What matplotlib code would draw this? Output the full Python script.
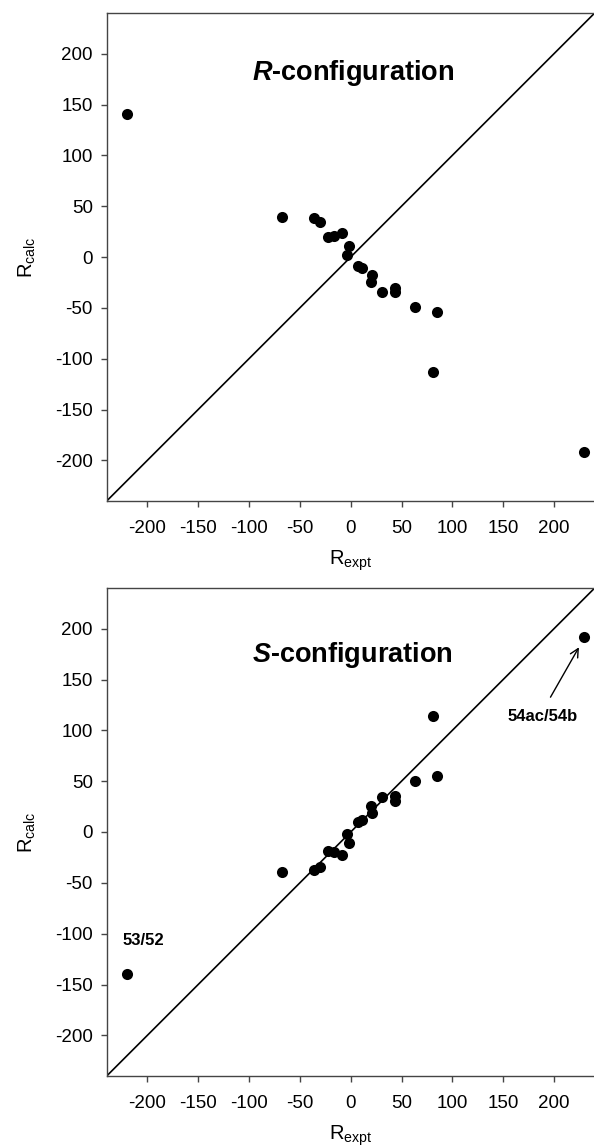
import matplotlib
matplotlib.use("Agg")
import matplotlib.pyplot as plt

plt.rcParams["font.family"] = ["Liberation Sans", "DejaVu Sans"]
plt.rcParams["axes.unicode_minus"] = False
plt.rcParams["mathtext.fontset"] = "custom"
plt.rcParams["mathtext.rm"] = "Liberation Sans"
plt.rcParams["mathtext.it"] = "Liberation Sans:italic:bold"
plt.rcParams["mathtext.bf"] = "Liberation Sans:bold"

# experimental R values (same for both panels)
r_expt = [-220.2, -67.6, -35.9, -30.0, -22.6, -16.0, -8.6, -3.8, -1.8, 7.5,
          10.8, 20.6, 20.0, 30.4, 43.5, 43.5, 63.1, 84.5, 80.8, 229.8]
# calculated R values, R-configuration
rcalc_r = [140.2, 39.2, 38.2, 34.9, 19.2, 20.2, 23.5, 2.3, 11.1, -8.5,
           -10.8, -18.0, -24.9, -34.0, -30.4, -34.7, -49.4, -53.9, -113.1, -191.6]
# calculated R values, S-configuration
rcalc_s = [-139.9, -38.9, -37.3, -34.0, -18.6, -19.3, -22.5, -2.3, -11.1, 10.1,
           11.8, 18.9, 25.5, 34.6, 30.4, 35.3, 50.3, 54.9, 113.7, 192.2]

ticks = [-200, -150, -100, -50, 0, 50, 100, 150, 200]
LIM = 240


def panel(ax, ycalc, letter, title_y):
    ax.plot([-LIM, LIM], [-LIM, LIM], color="black", lw=1.2, zorder=2)
    ax.scatter(r_expt, ycalc, s=64, color="black", zorder=3, linewidths=0)
    ax.set_xlim(-LIM, LIM)
    ax.set_ylim(-LIM, LIM)
    ax.set_xticks(ticks)
    ax.set_yticks(ticks)
    ax.tick_params(direction="out", length=4, width=1, color="#444444",
                   labelsize=13.5, top=False, right=False)
    ax.tick_params(axis="x", pad=10)
    ax.tick_params(axis="y", pad=6)
    for sp in ax.spines.values():
        sp.set_color("#444444")
        sp.set_linewidth(1)
    ax.set_xlabel(r"$\mathrm{R}_{\mathrm{expt}}$", fontsize=14.5, labelpad=8)
    ax.set_ylabel(r"$\mathrm{R}_{\mathrm{calc}}$", fontsize=14.5, labelpad=12)
    ax.text(-97, title_y, "$" + letter + "$-configuration", fontsize=19.5,
            fontweight="bold", ha="left", va="baseline")


fig = plt.figure(figsize=(5.94, 11.48), dpi=100)
ax_r = fig.add_axes([106.7 / 594, (1148 - 501) / 1148, 488 / 594, 488 / 1148])
ax_s = fig.add_axes([106.7 / 594, (1148 - 1076) / 1148, 488 / 594, 488 / 1148])

panel(ax_r, rcalc_r, "R", 174)
panel(ax_s, rcalc_s, "S", 167)

ax_s.text(-204, -107, "53/52", fontsize=12, fontweight="bold",
          ha="center", va="center")
ax_s.text(189, 113.7, "54ac/54b", fontsize=12, fontweight="bold",
          ha="center", va="center")
ax_s.annotate("", xy=(224.5, 181.7), xytext=(196.5, 132.6),
              arrowprops=dict(arrowstyle="->,head_length=0.6,head_width=0.3",
                              lw=1, color="black", shrinkA=0, shrinkB=0))

fig.savefig("out.png", dpi=100)
